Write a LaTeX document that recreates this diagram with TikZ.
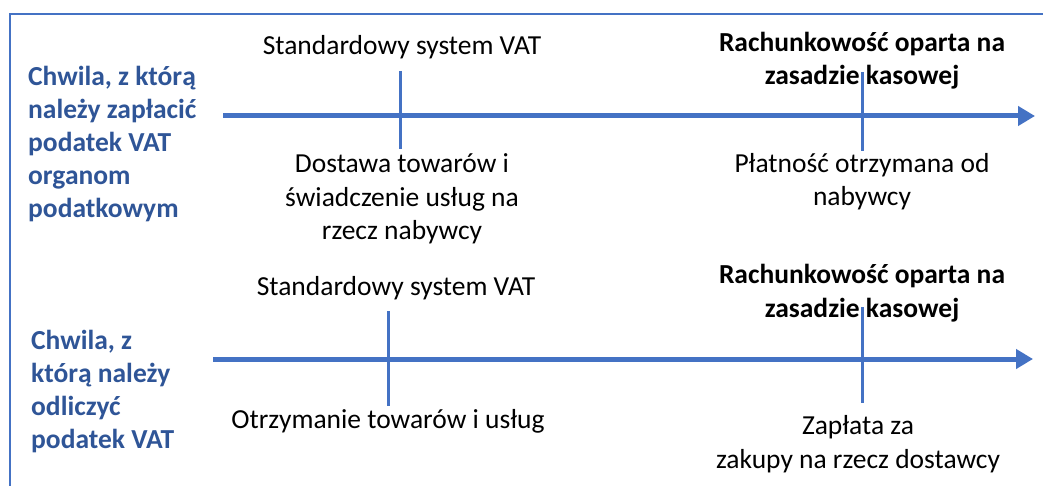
\documentclass[tikz,border=0pt]{standalone}
\usepackage{fontspec}
\setmainfont{Carlito}
\usetikzlibrary{arrows.meta}
\definecolor{axisblue}{HTML}{4472C4}
\definecolor{labelblue}{HTML}{2F5597}
\begin{document}
\begin{tikzpicture}[x=1pt,y=-1pt,
  timeline/.style={line width=5pt, draw=axisblue, -{Triangle[length=17pt,width=19pt]}},
  tickmark/.style={line width=3pt, draw=axisblue},
  txt/.style={font=\fontsize{27.5}{33.5}\selectfont, align=center, inner sep=0pt, anchor=base},
  boldtxt/.style={font=\fontsize{27.5}{33.5}\selectfont\bfseries, align=center, inner sep=0pt, anchor=base},
  side/.style={font=\fontsize{27.5}{33}\selectfont\bfseries, text=labelblue, align=left, inner sep=0pt, anchor=base west}]
\useasboundingbox (0,0) rectangle (1043,486);
% frame
\draw[line width=2pt, axisblue] (9.5,486) -- (9.5,14.5) -- (1043,14.5);

% ---- upper timeline: paying VAT to the tax office
% (multi-line nodes are placed by the baseline of their last line)
\coordinate (ua) at (223,116);
\coordinate (ub) at (1035,116);
\draw[timeline] (ua) -- (ub);
\coordinate (ut1a) at (400,71);  \coordinate (ut1b) at (400,149);
\coordinate (ut2a) at (862,72);  \coordinate (ut2b) at (862,151);
\draw[tickmark] (ut1a) -- (ut1b);
\draw[tickmark] (ut2a) -- (ut2b);
\node[side] (ulabel) at (28,218) {Chwila, z którą\\należy zapłacić\\podatek VAT\\organom\\podatkowym};
\node[txt] (ustd) at (402,55) {Standardowy system VAT};
\node[boldtxt] (ucash) at (862,85) {Rachunkowość oparta na\\zasadzie kasowej};
\node[txt] (uev1) at (402,240) {Dostawa towarów i\\świadczenie usług na\\rzecz nabywcy};
\node[txt] (uev2) at (862,206) {Płatność otrzymana od\\nabywcy};

% ---- lower timeline: deducting input VAT
\coordinate (la) at (213,359);
\coordinate (lb) at (1033,359);
\draw[timeline] (la) -- (lb);
\coordinate (lt1a) at (388,311); \coordinate (lt1b) at (388,406);
\coordinate (lt2a) at (862,307); \coordinate (lt2b) at (862,403);
\draw[tickmark] (lt1a) -- (lt1b);
\draw[tickmark] (lt2a) -- (lt2b);
\node[side] (llabel) at (31,448) {Chwila, z\\którą należy\\odliczyć\\podatek VAT};
\node[txt] (lstd) at (396,295) {Standardowy system VAT};
\node[boldtxt] (lcash) at (862,317) {Rachunkowość oparta na\\zasadzie kasowej};
\node[txt] (lev1) at (388,428) {Otrzymanie towarów i usług};
\node[txt] (lev2) at (858,468) {Zapłata za\\zakupy na rzecz dostawcy};
\end{tikzpicture}
\end{document}
